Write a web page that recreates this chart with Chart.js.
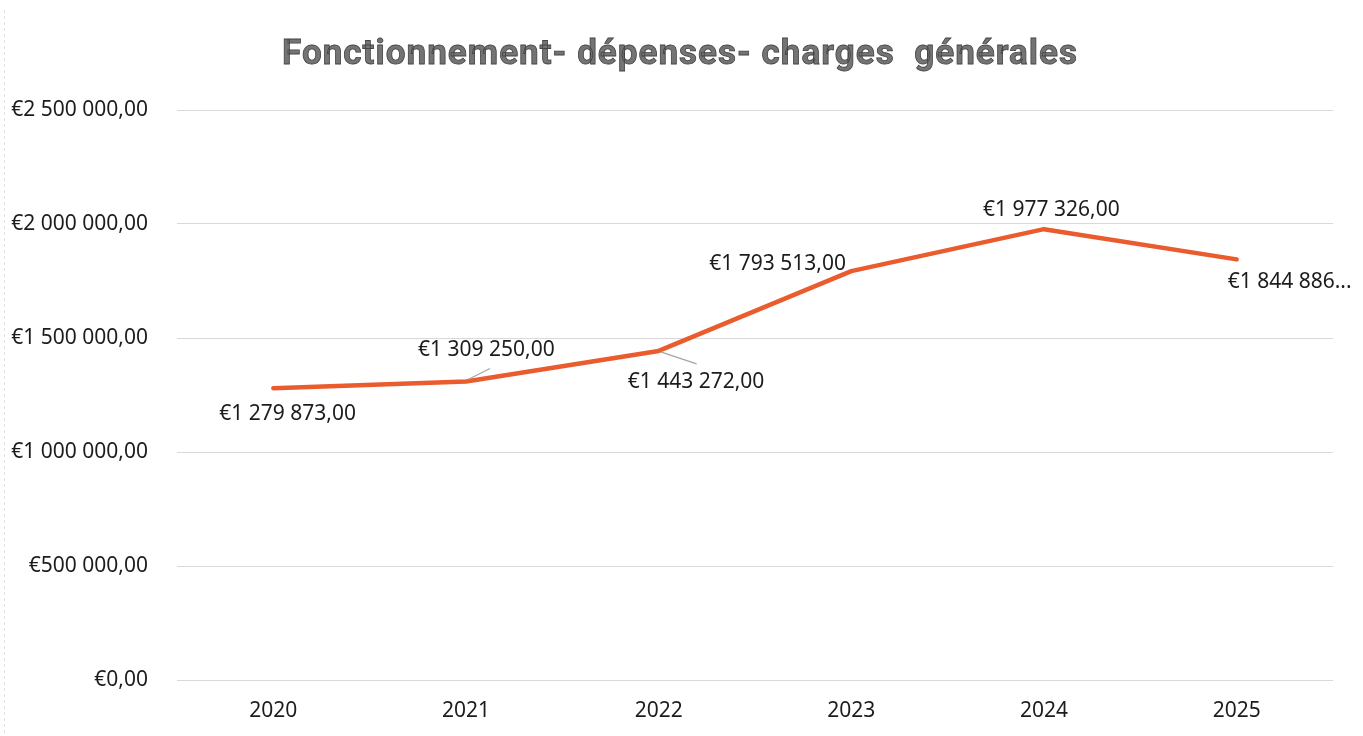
<!DOCTYPE html>
<html>
<head>
<meta charset="utf-8">
<script src="https://cdn.jsdelivr.net/npm/chart.js@4/dist/chart.umd.min.js"></script>
<style>
html,body{margin:0;padding:0;background:#fff;}
#wrap{position:relative;width:1363px;height:736px;}
</style>
</head>
<body>
<div id="wrap"><canvas id="c" width="1363" height="736"></canvas></div>
<script>
// ---- data ----
const titleText = "Fonctionnement- dépenses- charges  générales";
const categories = ["2020", "2021", "2022", "2023", "2024", "2025"];
const values = [1279873, 1309250, 1443272, 1793513, 1977326, 1844886];
const yTicks = [0, 500000, 1000000, 1500000, 2000000, 2500000];

// ---- styling (label placement relative to each point) ----
const labelOffsets = [
  {dx: -54, dy: 26},
  {dx: -48, dy: -31, leader: [2, -2, 24, -13]},
  {dx: -31, dy: 31, leader: [2, 1, 38, 13]},
  {dx: -142, dy: -7},
  {dx: -61, dy: -19},
  {dx: -9, dy: 23}
];

function fmtEuro(v) {
  const s = Math.round(v).toString().replace(/\B(?=(\d{3})+(?!\d))/g, " ");
  return "€" + s + ",00";
}

const FONT = "'Noto Sans', 'Open Sans', sans-serif";

const labelPlugin = {
  id: "dataLabels",
  afterDatasetsDraw(chart) {
    const ctx = chart.ctx;
    const meta = chart.getDatasetMeta(0);
    ctx.save();
    ctx.font = "21px " + FONT;
    ctx.textBaseline = "middle";
    ctx.textAlign = "left";
    const maxRight = chart.width - 8;
    meta.data.forEach((pt, i) => {
      const o = labelOffsets[i];
      if (o.leader) {
        ctx.strokeStyle = "#a6a6a6";
        ctx.lineWidth = 1.3;
        ctx.beginPath();
        ctx.moveTo(pt.x + o.leader[0], pt.y + o.leader[1]);
        ctx.lineTo(pt.x + o.leader[2], pt.y + o.leader[3]);
        ctx.stroke();
      }
      let txt = fmtEuro(values[i]);
      const x = pt.x + o.dx;
      if (x + ctx.measureText(txt).width > maxRight) {
        let base = txt;
        while (base.length > 1 && x + ctx.measureText(base + "...").width > maxRight) {
          base = base.slice(0, -1);
        }
        txt = base.trimEnd() + "...";
      }
      ctx.fillStyle = "#1c1c1c";
      ctx.fillText(txt, x, pt.y + o.dy);
    });
    ctx.restore();
  }
};

const titlePlugin = {
  id: "customTitle",
  afterDraw(chart) {
    const ctx = chart.ctx;
    ctx.save();
    ctx.font = "bold 35px Roboto, 'Liberation Sans', sans-serif";
    ctx.letterSpacing = "1px";
    ctx.textAlign = "center";
    ctx.textBaseline = "middle";
    const cx = 680, cy = 55;
    const w = ctx.measureText(titleText).width;
    const sx = 796 / w;
    ctx.translate(cx, cy);
    ctx.scale(sx, 1);
    ctx.fillStyle = "#747474";
    ctx.fillText(titleText, 0, 0);
    ctx.lineWidth = 0.8;
    ctx.strokeStyle = "#444444";
    ctx.strokeText(titleText, 0, 0);
    ctx.restore();
    // faint frame edge
    ctx.save();
    ctx.strokeStyle = "#e2e2e2";
    ctx.setLineDash([3, 3]);
    ctx.beginPath();
    ctx.moveTo(4.5, 10);
    ctx.lineTo(4.5, 736);
    ctx.stroke();
    ctx.restore();
  }
};

new Chart(document.getElementById("c"), {
  type: "line",
  data: {
    labels: categories,
    datasets: [{
      data: values,
      borderColor: "#EA5B2D",
      borderWidth: 4.5,
      pointRadius: 0,
      tension: 0,
      fill: false,
      borderCapStyle: "round",
      borderJoinStyle: "round"
    }]
  },
  options: {
    responsive: false,
    animation: false,
    layout: {padding: {top: 110, left: 10, right: 30, bottom: 10}},
    plugins: {legend: {display: false}, tooltip: {enabled: false}, title: {display: false}},
    scales: {
      x: {
        offset: true,
        grid: {display: false, drawTicks: false},
        border: {display: false},
        ticks: {color: "#1c1c1c", font: {family: FONT, size: 21}, padding: 18},
        afterFit(s) { s.height = 46; }
      },
      y: {
        min: yTicks[0],
        max: yTicks[yTicks.length - 1],
        afterBuildTicks(s) { s.ticks = yTicks.map(v => ({value: v})); },
        grid: {color: "#d9d9d9", lineWidth: 1, drawTicks: false},
        border: {display: false},
        ticks: {
          color: "#1c1c1c",
          font: {family: FONT, size: 21},
          padding: 29,
          callback: v => fmtEuro(v)
        },
        afterFit(s) { s.width = 167; }
      }
    }
  },
  plugins: [labelPlugin, titlePlugin]
});
</script>
</body>
</html>
